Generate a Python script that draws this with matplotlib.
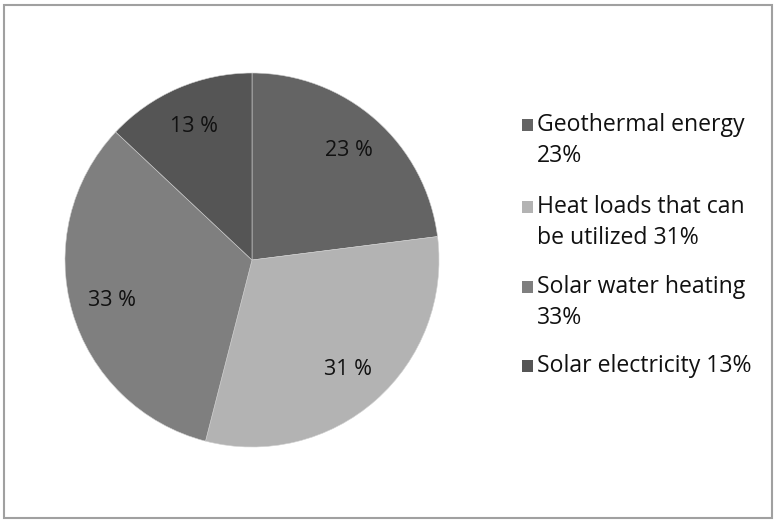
import matplotlib
matplotlib.use("Agg")
import numpy as np
import matplotlib.pyplot as plt
from matplotlib.patches import Rectangle

categories = ["Geothermal energy\n23%", "Heat loads that can\nbe utilized 31%",
              "Solar water heating\n33%", "Solar electricity 13%"]
values = [23, 31, 33, 13]
pct_labels = ["23 %", "31 %", "33 %", "13 %"]
colors = ["#646464", "#b3b3b3", "#7f7f7f", "#555555"]

plt.rcParams['font.family'] = ['Open Sans', 'DejaVu Sans']

W, H = 774, 521
fig = plt.figure(figsize=(W / 100, H / 100), dpi=100)
fig.patch.set_facecolor("white")

def fx(px):
    return px / W

def fy(py):
    return 1 - py / H

# frame
fig.add_artist(Rectangle((fx(4), fy(518)), 768 / W, 513 / H, transform=fig.transFigure,
                         fill=False, edgecolor="#a0a0a0", linewidth=1.5))

cx, cy, r = 252, 261, 187
ax = fig.add_axes([(cx - r) / W, (cy - r) / H, 2 * r / W, 2 * r / H])
wedges, texts = ax.pie(values, colors=colors, startangle=90, counterclock=False,
                       radius=1.0, wedgeprops=dict(edgecolor="#d0d0d0", linewidth=0.4))
for w, lab in zip(wedges, pct_labels):
    ang = np.deg2rad((w.theta1 + w.theta2) / 2)
    ax.text(0.78 * np.cos(ang), 0.78 * np.sin(ang), lab, ha="center", va="center",
            fontsize=15.5, color="#111111")
ax.set_xlim(-1, 1)
ax.set_ylim(-1, 1)
ax.set_aspect("equal")
ax.axis("off")

# legend (manual layout)
first_line_y = [125, 207, 287, 366]
line_gap = 31
for lab, col, y0 in zip(categories, colors, first_line_y):
    fig.add_artist(Rectangle((fx(522), fy(y0 + 6)), 11 / W, 12 / H,
                             transform=fig.transFigure, facecolor=col, edgecolor="none"))
    for i, line in enumerate(lab.split("\n")):
        fig.text(fx(537), fy(y0 + i * line_gap), line, ha="left", va="center",
                 fontsize=16.6, color="#111111")

fig.savefig("out.png", dpi=100, facecolor="white")
